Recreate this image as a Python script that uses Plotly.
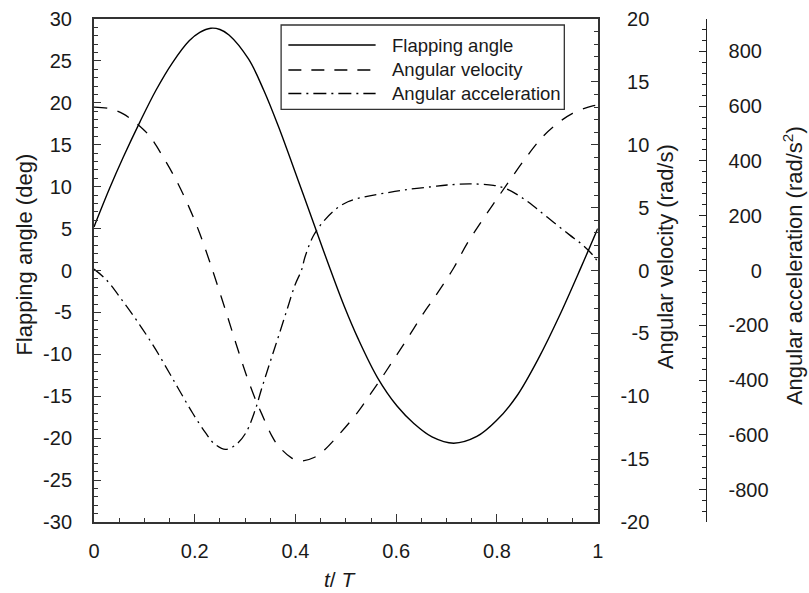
import plotly.graph_objects as go

# ---------------- data ----------------
flap_t = [0, 0.031, 0.058, 0.091, 0.123, 0.156, 0.189, 0.210, 0.232, 0.250, 0.268,
          0.307, 0.337, 0.366, 0.405, 0.441, 0.465, 0.497, 0.524, 0.563, 0.602,
          0.635, 0.671, 0.714, 0.760, 0.799, 0.839, 0.884, 0.924, 0.967, 1.0]
flap_deg = [5.2, 9.8, 13.5, 17.7, 21.5, 24.8, 27.4, 28.4, 28.9, 28.75, 28.1,
            25.2, 21.5, 17.2, 10.8, 4.8, 0.8, -4.3, -8.1, -12.8, -16.2,
            -18.25, -19.85, -20.6, -19.8, -17.9, -15.0, -10.3, -5.4, 0.4, 5.0]

vel_t = [0, 0.03, 0.058, 0.097, 0.114, 0.136, 0.163, 0.189, 0.209, 0.228, 0.238,
         0.261, 0.281, 0.301, 0.320, 0.333, 0.353, 0.366, 0.392, 0.409, 0.438,
         0.458, 0.484, 0.524, 0.550, 0.570, 0.589, 0.616, 0.635, 0.655, 0.675,
         0.714, 0.740, 0.766, 0.793, 0.819, 0.858, 0.891, 0.917, 0.950, 0.990, 1.0]
vel_rad_s = [13.0, 12.88, 12.45, 11.25, 10.5, 9.1, 7.2, 5.0, 3.05, 0.9, -0.3,
             -3.15, -5.7, -8.15, -10.2, -11.4, -13.15, -13.95, -14.9, -15.15, -14.85,
             -14.25, -13.15, -11.25, -9.75, -8.6, -7.45, -5.8, -4.6, -3.35, -2.2,
             0.2, 2.1, 3.7, 5.3, 6.8, 9.0, 10.65, 11.6, 12.5, 13.1, 13.15]

acc_t = [0, 0.025, 0.058, 0.091, 0.123, 0.150, 0.169, 0.196, 0.222, 0.238, 0.261,
         0.281, 0.301, 0.320, 0.333, 0.353, 0.366, 0.383, 0.399, 0.412, 0.419,
         0.435, 0.455, 0.478, 0.504, 0.537, 0.576, 0.616, 0.671, 0.701, 0.747,
         0.793, 0.819, 0.852, 0.878, 0.911, 0.944, 0.970, 0.990, 1.0]
acc_rad_s2 = [5, -35, -114, -199, -290, -375, -436, -521, -594, -631, -653,
              -637, -594, -509, -430, -315, -242, -144, -53, 2, 50,
              125, 178, 221, 251, 269, 282, 294, 306, 312, 316,
              311, 298, 263, 227, 178, 130, 93, 57, 32]

x_ticks = [0, 0.2, 0.4, 0.6, 0.8, 1]
x_ticktext = ["0", "0.2", "0.4", "0.6", "0.8", "1"]
flap_ticks = list(range(-30, 31, 5))
vel_ticks = list(range(-20, 21, 5))
acc_ticks = list(range(-800, 801, 200))

# ---------------- layout geometry ----------------
W, H = 809, 593
ML, MR, MT, MB = 94, 0, 19, 71
PW = W - ML - MR
PH = H - MT - MB
PLOT_R = 602
AX3_X = 710.7
VEL_LABEL_X = 654


def px(x):
    return (x - ML) / PW


def py(y):
    return (H - MB - y) / PH


FONT = "Liberation Sans, Arial, sans-serif"
INK = "#1a1a1a"
TICKFONT = dict(family=FONT, size=20, color=INK)
LINE_SHAPE = dict(shape="spline", smoothing=1.0)

fig = go.Figure()
fig.add_trace(go.Scatter(x=flap_t, y=flap_deg, mode="lines", yaxis="y",
                         line=dict(color="black", width=1.4, **LINE_SHAPE),
                         showlegend=False))
fig.add_trace(go.Scatter(x=vel_t, y=vel_rad_s, mode="lines", yaxis="y2",
                         line=dict(color="black", width=1.3, dash="13px,11px", **LINE_SHAPE),
                         showlegend=False))
fig.add_trace(go.Scatter(x=vel_t, y=vel_rad_s, mode="lines", yaxis="y3",
                         line=dict(color="rgba(0,0,0,0)", width=0),
                         hoverinfo="skip", showlegend=False))
fig.add_trace(go.Scatter(x=acc_t, y=acc_rad_s2, mode="lines", yaxis="y4",
                         line=dict(color="black", width=1.3, dash="12px,5px,2px,5px",
                                   **LINE_SHAPE),
                         showlegend=False))


def hyph(v):
    return str(v).replace("\u2212", "-")


acc_text = [("\u00a0\u00a0\u00a0\u00a00" if v == 0 else hyph(v)) for v in acc_ticks]

fig.update_layout(
    width=W, height=H,
    margin=dict(l=ML, r=MR, t=MT, b=MB),
    paper_bgcolor="white", plot_bgcolor="white",
    font=dict(family=FONT, color=INK),
    xaxis=dict(domain=[0, (PLOT_R - ML) / PW], range=[0, 1],
               tickmode="array", tickvals=x_ticks, ticktext=x_ticktext,
               ticks="inside", ticklen=8, tickwidth=1, tickcolor="#333",
               minor=dict(dtick=0.05, ticks="inside", ticklen=4, tickcolor="#333"),
               showline=True, linewidth=2, linecolor="#333", mirror=True,
               showgrid=False, zeroline=False, tickfont=TICKFONT,
               ticklabelstandoff=10),
    yaxis=dict(range=[-30, 30], tickmode="array", tickvals=flap_ticks,
               ticktext=[hyph(v) for v in flap_ticks],
               ticks="inside", ticklen=7, tickwidth=1, tickcolor="#333",
               minor=dict(dtick=1, ticks="inside", ticklen=4, tickcolor="#333"),
               showline=True, linewidth=2, linecolor="#333",
               showgrid=False, zeroline=False, tickfont=TICKFONT,
               ticklabelstandoff=16),
    yaxis2=dict(range=[-20, 20], overlaying="y", side="right", anchor="x",
                tickmode="array", tickvals=vel_ticks,
                ticks="inside", ticklen=7, tickwidth=1, tickcolor="#333",
                minor=dict(dtick=1, ticks="inside", ticklen=4, tickcolor="#333"),
                showline=True, linewidth=2, linecolor="#333",
                showgrid=False, zeroline=False, showticklabels=False),
    yaxis3=dict(range=[-20, 20], overlaying="y", side="left", anchor="free",
                position=px(VEL_LABEL_X), tickmode="array", tickvals=vel_ticks,
                ticktext=[hyph(v) for v in vel_ticks],
                ticks="", showline=False, showgrid=False, zeroline=False,
                tickfont=TICKFONT, ticklabelstandoff=0),
    yaxis4=dict(range=[-918, 918], overlaying="y", side="right", anchor="free",
                position=px(AX3_X), tickmode="array", tickvals=acc_ticks,
                ticktext=acc_text,
                ticks="inside", ticklen=7, tickwidth=1, tickcolor="#222",
                minor=dict(dtick=40, ticks="inside", ticklen=3.5, tickcolor="#222"),
                showline=True, linewidth=1, linecolor="#222",
                showgrid=False, zeroline=False, tickfont=TICKFONT,
                ticklabelstandoff=18),
)

TITLE_FONT = dict(family=FONT, size=22, color=INK)
annots = [
    dict(text="Flapping angle (deg)", x=px(23), y=py(255), textangle=-90, size=22),
    dict(text="Angular velocity (rad/s)", x=px(670), y=py(257), textangle=-90, size=22),
    dict(text="Angular acceleration (rad/s<sup>2</sup>)", x=px(799), y=py(266),
         textangle=-90, size=22),
    dict(text="<i>t</i>/ <i>T</i>", x=px(343), y=py(579), textangle=0, size=21),
]
for a in annots:
    size = a.pop("size")
    fig.add_annotation(xref="paper", yref="paper", xanchor="center", yanchor="middle",
                       showarrow=False, font=dict(family=FONT, size=size, color=INK),
                       borderpad=0, **a)

# ---------------- custom legend ----------------
LEG_FONT = dict(family=FONT, size=18.5, color=INK)
fig.add_shape(type="rect", xref="paper", yref="paper",
              x0=px(282.7), x1=px(568.3), y0=py(109.3), y1=py(25),
              line=dict(color="#333", width=1.3), fillcolor="white", layer="above")
legend_rows = [("Flapping angle", "solid", 45),
               ("Angular velocity", "13px,10px", 70),
               ("Angular acceleration", "13px,5px,2px,5px", 93.5)]
for label, dash, yy in legend_rows:
    fig.add_shape(type="line", xref="paper", yref="paper",
                  x0=px(290), x1=px(378), y0=py(yy), y1=py(yy),
                  line=dict(color="black", width=1.3, dash=dash), layer="above")
    fig.add_annotation(xref="paper", yref="paper", x=px(393), y=py(yy),
                       xanchor="left", yanchor="middle", showarrow=False,
                       text=label, font=LEG_FONT)

fig.write_html("out.html")
